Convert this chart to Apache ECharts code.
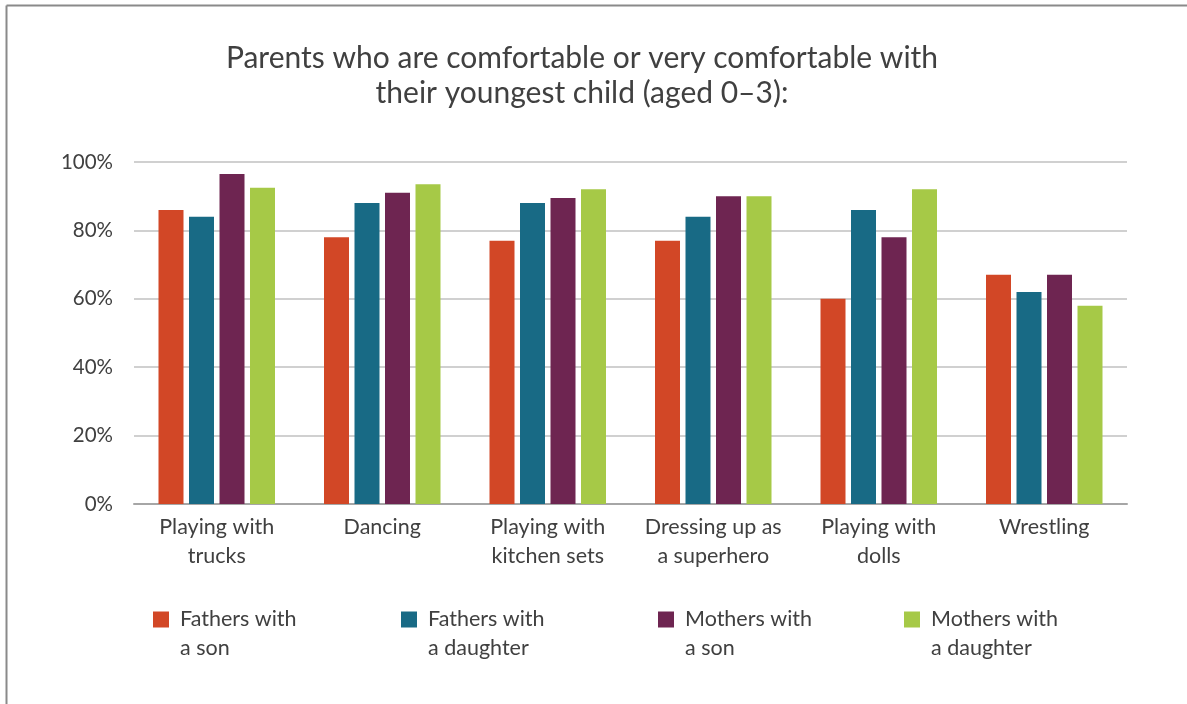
<!DOCTYPE html>
<html>
<head>
<meta charset="utf-8">
<script src="https://cdn.jsdelivr.net/npm/echarts@6/dist/echarts.min.js"></script>
<style>
  html, body { margin: 0; padding: 0; background: #ffffff; }
  #chart { width: 1187px; height: 704px; }
</style>
</head>
<body>
<div id="chart"></div>
<script>
const titleLines = ['Parents who are comfortable or very comfortable with', 'their youngest child (aged 0\u20133):'];
const categories = ['Playing with\ntrucks', 'Dancing', 'Playing with\nkitchen sets', 'Dressing up as\na superhero', 'Playing with\ndolls', 'Wrestling'];
const seriesNames = ['Fathers with\na son', 'Fathers with\na daughter', 'Mothers with\na son', 'Mothers with\na daughter'];
const fathersSon = [86, 78, 77, 77, 60, 67];
const fathersDaughter = [84, 88, 88, 84, 86, 62];
const mothersSon = [96.5, 91, 89.5, 90, 78, 67];
const mothersDaughter = [92.5, 93.5, 92, 90, 92, 58];
const yTicks = [0, 20, 40, 60, 80, 100];

const colors = ['#D24726', '#186A85', '#6E2551', '#A6C947'];
const values = [fathersSon, fathersDaughter, mothersSon, mothersDaughter];
const FONT = 'Lato';
const legendLeft = [153, 401, 658, 904];

const chart = echarts.init(document.getElementById('chart'), null, { renderer: 'canvas' });
const option = {
  backgroundColor: '#ffffff',
  animation: false,
  textStyle: { fontFamily: FONT },
  grid: { left: 134, right: 60, top: 162, bottom: 200, containLabel: false },
  graphic: [
    { type: 'line', shape: { x1: 6.5, y1: 5.5, x2: 1187, y2: 5.5 }, style: { stroke: '#8a8a8a', lineWidth: 2 } },
    { type: 'line', shape: { x1: 6.5, y1: 5.5, x2: 6.5, y2: 704 }, style: { stroke: '#8a8a8a', lineWidth: 2 } },
    { type: 'text', x: 582, y: 58, style: { text: titleLines[0], textAlign: 'center', textVerticalAlign: 'middle', font: '30px ' + FONT, fill: '#404040' } },
    { type: 'text', x: 582, y: 93, style: { text: titleLines[1], textAlign: 'center', textVerticalAlign: 'middle', font: '30px ' + FONT, fill: '#404040' } }
  ],
  legend: seriesNames.map((n, i) => ({
    data: [n],
    left: legendLeft[i],
    top: 576,
    padding: 0,
    icon: 'rect',
    itemWidth: 16,
    itemHeight: 16,
    itemGap: 0,
    selectedMode: false,
    formatter: name => '\n' + name,
    textStyle: { fontFamily: FONT, fontSize: 21.5, color: '#404040', lineHeight: 29, padding: [0, 0, 0, 6] }
  })),
  xAxis: {
    type: 'category',
    data: categories,
    axisTick: { show: false },
    axisLine: { lineStyle: { color: '#a6a6a6', width: 2 } },
    axisLabel: { fontFamily: FONT, fontSize: 21.5, color: '#404040', lineHeight: 29, margin: 9, interval: 0 }
  },
  yAxis: {
    type: 'value',
    min: 0, max: 100, interval: 20,
    axisLine: { show: false },
    axisTick: { show: false },
    splitLine: { lineStyle: { color: '#c0c0c0', width: 1.5 } },
    axisLabel: { fontFamily: FONT, fontSize: 20.5, color: '#404040', margin: 21, formatter: v => yTicks.includes(v) ? v + '%' : '' }
  },
  series: seriesNames.map((n, i) => ({
    name: n,
    type: 'bar',
    data: values[i],
    barWidth: 25,
    barGap: '22%',
    itemStyle: { color: colors[i] }
  }))
};
chart.setOption(option);
</script>
</body>
</html>
